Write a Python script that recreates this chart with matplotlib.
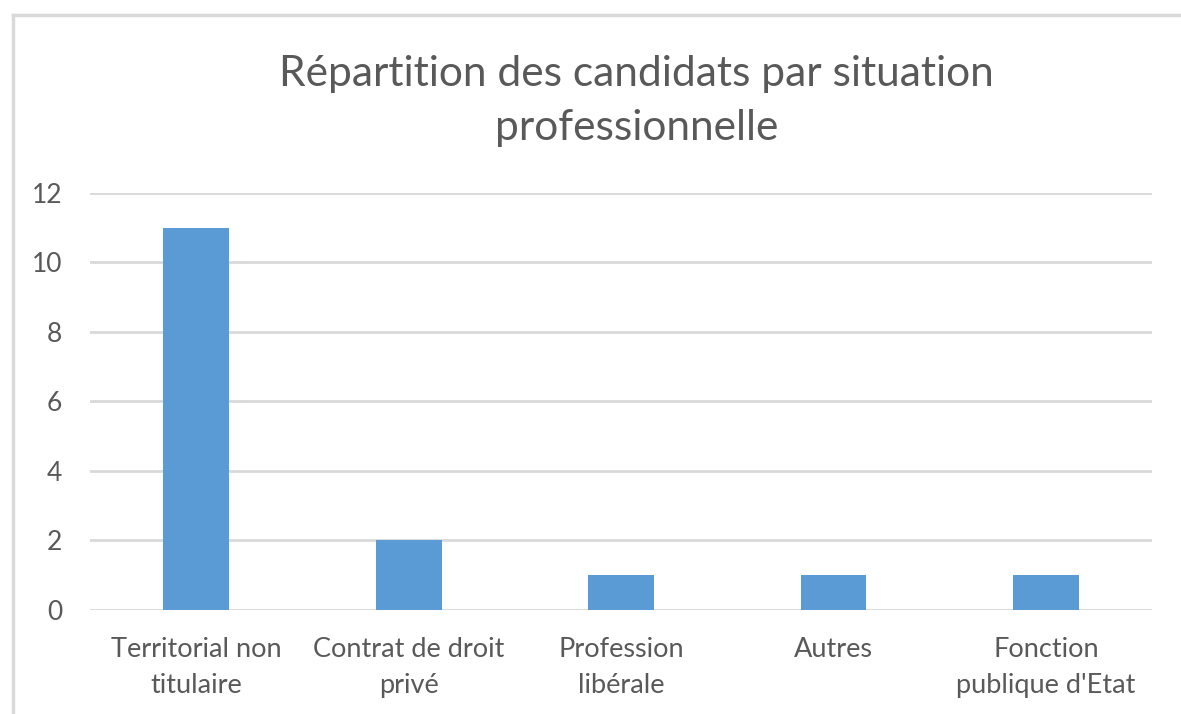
import matplotlib
matplotlib.use('Agg')
import matplotlib.pyplot as plt
from matplotlib.lines import Line2D

categories = ['Territorial non\ntitulaire', 'Contrat de droit\nprivé', 'Profession\nlibérale',
              'Autres', 'Fonction\npublique d\'Etat']
values = [11, 2, 1, 1, 1]
yticks = [0, 2, 4, 6, 8, 10, 12]

plt.rcParams['font.family'] = ['Lato', 'DejaVu Sans']
text_color = '#595959'
grid_color = '#D9D9D9'
bar_color = '#5B9BD5'

fig = plt.figure(figsize=(11.81, 7.14), dpi=100)
ax = fig.add_axes([0.0762, 0.1457, 0.8993, 0.584])

x = range(len(categories))
ax.bar(x, values, width=0.31, color=bar_color, zorder=3)

ax.set_xlim(-0.5, len(categories) - 0.5)
ax.set_ylim(0, 12)
ax.set_yticks(yticks)
ax.set_yticklabels([str(v) for v in yticks], fontsize=19, color=text_color)
ax.set_xticks(list(x))
ax.set_xticklabels(categories, fontsize=19.5, color=text_color, linespacing=1.57)
ax.tick_params(axis='both', length=0)
ax.tick_params(axis='y', pad=20)
ax.tick_params(axis='x', pad=19.5)
ax.grid(axis='y', color=grid_color, linewidth=2, zorder=0)
for s in ax.spines.values():
    s.set_visible(False)

fig.text(0.539, 0.858, 'Répartition des candidats par situation\nprofessionnelle',
         ha='center', va='center', fontsize=30.6, color=text_color, linespacing=1.52)

# chart frame (top and left edges visible)
fig.add_artist(Line2D([0.0106, 1.0], [0.979, 0.979], transform=fig.transFigure,
                      color=grid_color, linewidth=2.5))
fig.add_artist(Line2D([0.0106, 0.0106], [0.0, 0.979], transform=fig.transFigure,
                      color=grid_color, linewidth=2.5))

fig.savefig('out.png', dpi=100, facecolor='white')
